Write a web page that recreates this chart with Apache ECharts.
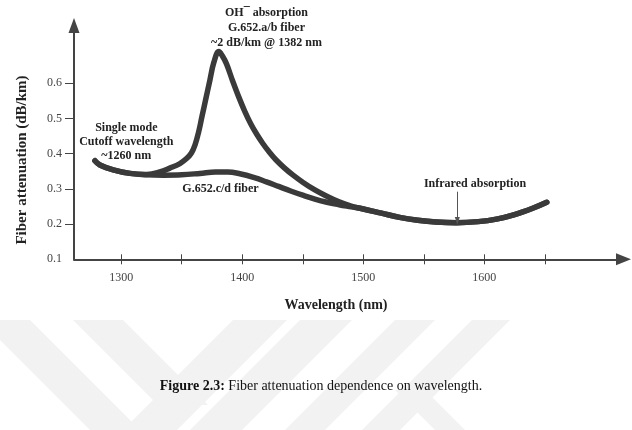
<!DOCTYPE html>
<html>
<head>
<meta charset="utf-8">
<script src="https://cdn.jsdelivr.net/npm/echarts@6/dist/echarts.min.js"></script>
<style>
  html, body { margin: 0; padding: 0; background: #fff; }
  #chart { width: 632px; height: 430px; }
</style>
</head>
<body>
<div id="chart"></div>
<script>
// G.652.a/b fiber (with OH- water peak), up to where it joins the other curve
var abWavelength = [1278.3, 1282.4, 1293.4, 1307.2, 1321.0, 1331.9, 1340.2, 1348.5, 1354, 1358, 1361, 1364, 1366.7, 1370.0, 1373.3, 1376.6, 1380.7, 1383.5, 1387, 1392, 1397, 1402, 1407, 1412, 1417, 1422, 1428, 1435, 1442, 1450, 1460, 1470, 1480, 1490];
var abAttenuation = [0.380, 0.368, 0.354, 0.344, 0.341, 0.348, 0.359, 0.372, 0.386, 0.402, 0.425, 0.462, 0.505, 0.557, 0.609, 0.660, 0.690, 0.678, 0.655, 0.607, 0.562, 0.521, 0.485, 0.455, 0.429, 0.406, 0.382, 0.359, 0.339, 0.319, 0.297, 0.279, 0.263, 0.251];

// G.652.c/d fiber (low water peak)
var cdWavelength = [1278.3, 1282.4, 1293.4, 1307.2, 1321, 1335, 1350, 1365, 1378, 1388, 1398, 1410, 1420, 1430, 1440, 1450, 1460, 1470, 1480, 1490];
var cdAttenuation = [0.380, 0.368, 0.354, 0.344, 0.340, 0.339, 0.340, 0.344, 0.348, 0.348, 0.343, 0.332, 0.320, 0.307, 0.294, 0.282, 0.271, 0.262, 0.255, 0.249];

// common tail of both fibers (infrared absorption side)
var tailWavelength = [1500, 1515, 1530, 1545, 1560, 1577, 1595, 1610, 1625, 1640, 1651.6];
var tailAttenuation = [0.243, 0.231, 0.219, 0.211, 0.206, 0.204, 0.207, 0.214, 0.227, 0.245, 0.262];

var xTickValues = [1300, 1350, 1400, 1450, 1500, 1550, 1600, 1650];
var xLabelValues = [1300, 1400, 1500, 1600];
var yTickValues = [0.2, 0.3, 0.4, 0.5, 0.6];
var yLabelValues = [0.1, 0.2, 0.3, 0.4, 0.5, 0.6];

// infrared absorption arrow (wavelength, from / to)
var irArrow = { nm: 1577.7, from: 0.292, to: 0.209 };

function zipData(xs, ys) {
    var out = [];
    for (var i = 0; i < xs.length; i++) {
        out.push([xs[i], ys[i]]);
    }
    return out;
}

var abData = zipData(abWavelength.concat(tailWavelength), abAttenuation.concat(tailAttenuation));
var cdData = zipData(cdWavelength.concat(tailWavelength), cdAttenuation.concat(tailAttenuation));

var serif = '"Liberation Serif", "Times New Roman", serif';
var curveStyle = { color: '#3a3a3a', width: 5.5, cap: 'round', join: 'round' };

// faint watermark in the background
var wmColor = '#f2f2f2';
var watermark = [
    [[-20, 320], [30, 320], [140, 430], [90, 430]],
    [[73, 320], [123, 320], [208, 405], [158, 405]],
    [[233, 320], [287, 320], [177, 430], [123, 430]],
    [[300, 320], [352, 320], [242, 430], [190, 430]],
    [[395, 320], [435, 320], [325, 430], [285, 430]],
    [[472, 320], [510, 320], [400, 430], [362, 430]],
    [[395, 390], [425, 390], [465, 430], [435, 430]]
];

var graphics = [];
watermark.forEach(function (pts) {
    graphics.push({ type: 'polygon', z: -10, silent: true, shape: { points: pts }, style: { fill: wmColor } });
});

function addText(text, x, y, size, opts) {
    opts = opts || {};
    graphics.push({
        type: 'text', x: x, y: y, rotation: opts.rotation || 0, z: 10,
        style: {
            text: text,
            fill: opts.color || '#222',
            font: (opts.weight || 'bold') + ' ' + size + 'px ' + serif,
            lineHeight: opts.lineHeight || size + 2,
            align: 'center',
            verticalAlign: 'middle',
            rich: opts.rich
        }
    });
}

addText('OH\u00AF absorption\nG.652.a/b fiber\n~2 dB/km @ 1382 nm', 266.5, 27.8, 12, { lineHeight: 15 });
addText('Single mode\nCutoff wavelength\n~1260 nm', 126.3, 141.8, 12, { lineHeight: 14.2 });
addText('G.652.c/d fiber', 220.5, 189.3, 12);
addText('Infrared absorption', 475, 184, 12);
addText('Wavelength (nm)', 336, 305, 14);
addText('Fiber attenuation (dB/km)', 22, 160, 15, { rotation: Math.PI / 2 });
addText('{b|Figure 2.3:} Fiber attenuation dependence on wavelength.', 321, 386, 14, {
    weight: 'normal', color: '#111',
    rich: { b: { fontWeight: 'bold', fontFamily: serif, fontSize: 14, fill: '#111' } }
});

var chart = echarts.init(document.getElementById('chart'));
chart.setOption({
    animation: false,
    backgroundColor: '#fff',
    grid: { left: 74, right: 8.5, top: 25.5, bottom: 170.7, containLabel: false, outerBoundsMode: 'none' },
    xAxis: [{
        type: 'value',
        min: 1261,
        max: 1715,
        position: 'bottom',
        axisLine: { show: true, onZero: false, symbol: ['none', 'triangle'], symbolSize: [12, 15], lineStyle: { color: '#444', width: 2 } },
        axisTick: { show: true, customValues: xTickValues, length: 5, lineStyle: { color: '#444', width: 1 } },
        axisLabel: {
            customValues: xLabelValues, margin: 13, fontFamily: serif, fontSize: 12, color: '#444',
            formatter: function (v) { return String(v); }
        },
        splitLine: { show: false }
    }, {
        // upper half of the x ticks (ticks cross the axis line)
        type: 'value',
        min: 1261,
        max: 1715,
        position: 'top',
        offset: -233.8,
        axisLine: { show: false },
        axisTick: { show: true, customValues: xTickValues, length: 5, lineStyle: { color: '#444', width: 1 } },
        axisLabel: { show: false },
        splitLine: { show: false }
    }],
    yAxis: {
        type: 'value',
        min: 0.1,
        max: 0.764,
        axisLine: { show: true, onZero: false, symbol: ['none', 'triangle'], symbolSize: [11, 15], lineStyle: { color: '#444', width: 2 } },
        axisTick: { show: true, customValues: yTickValues, length: 9, lineStyle: { color: '#444', width: 1 } },
        axisLabel: { customValues: yLabelValues, margin: 12, fontFamily: serif, fontSize: 12, color: '#444' },
        splitLine: { show: false }
    },
    series: [{
        name: 'G.652.a/b',
        type: 'line',
        data: abData,
        showSymbol: false,
        smooth: 0.4,
        lineStyle: curveStyle,
        silent: true
    }, {
        name: 'G.652.c/d',
        type: 'line',
        data: cdData,
        showSymbol: false,
        smooth: 0.4,
        lineStyle: curveStyle,
        silent: true,
        markLine: {
            silent: true,
            symbol: ['none', 'triangle'],
            symbolSize: [5, 8],
            label: { show: false },
            lineStyle: { color: '#555', width: 1, type: 'solid' },
            data: [[{ coord: [irArrow.nm, irArrow.from] }, { coord: [irArrow.nm, irArrow.to] }]]
        }
    }],
    graphic: graphics
});
</script>
</body>
</html>
